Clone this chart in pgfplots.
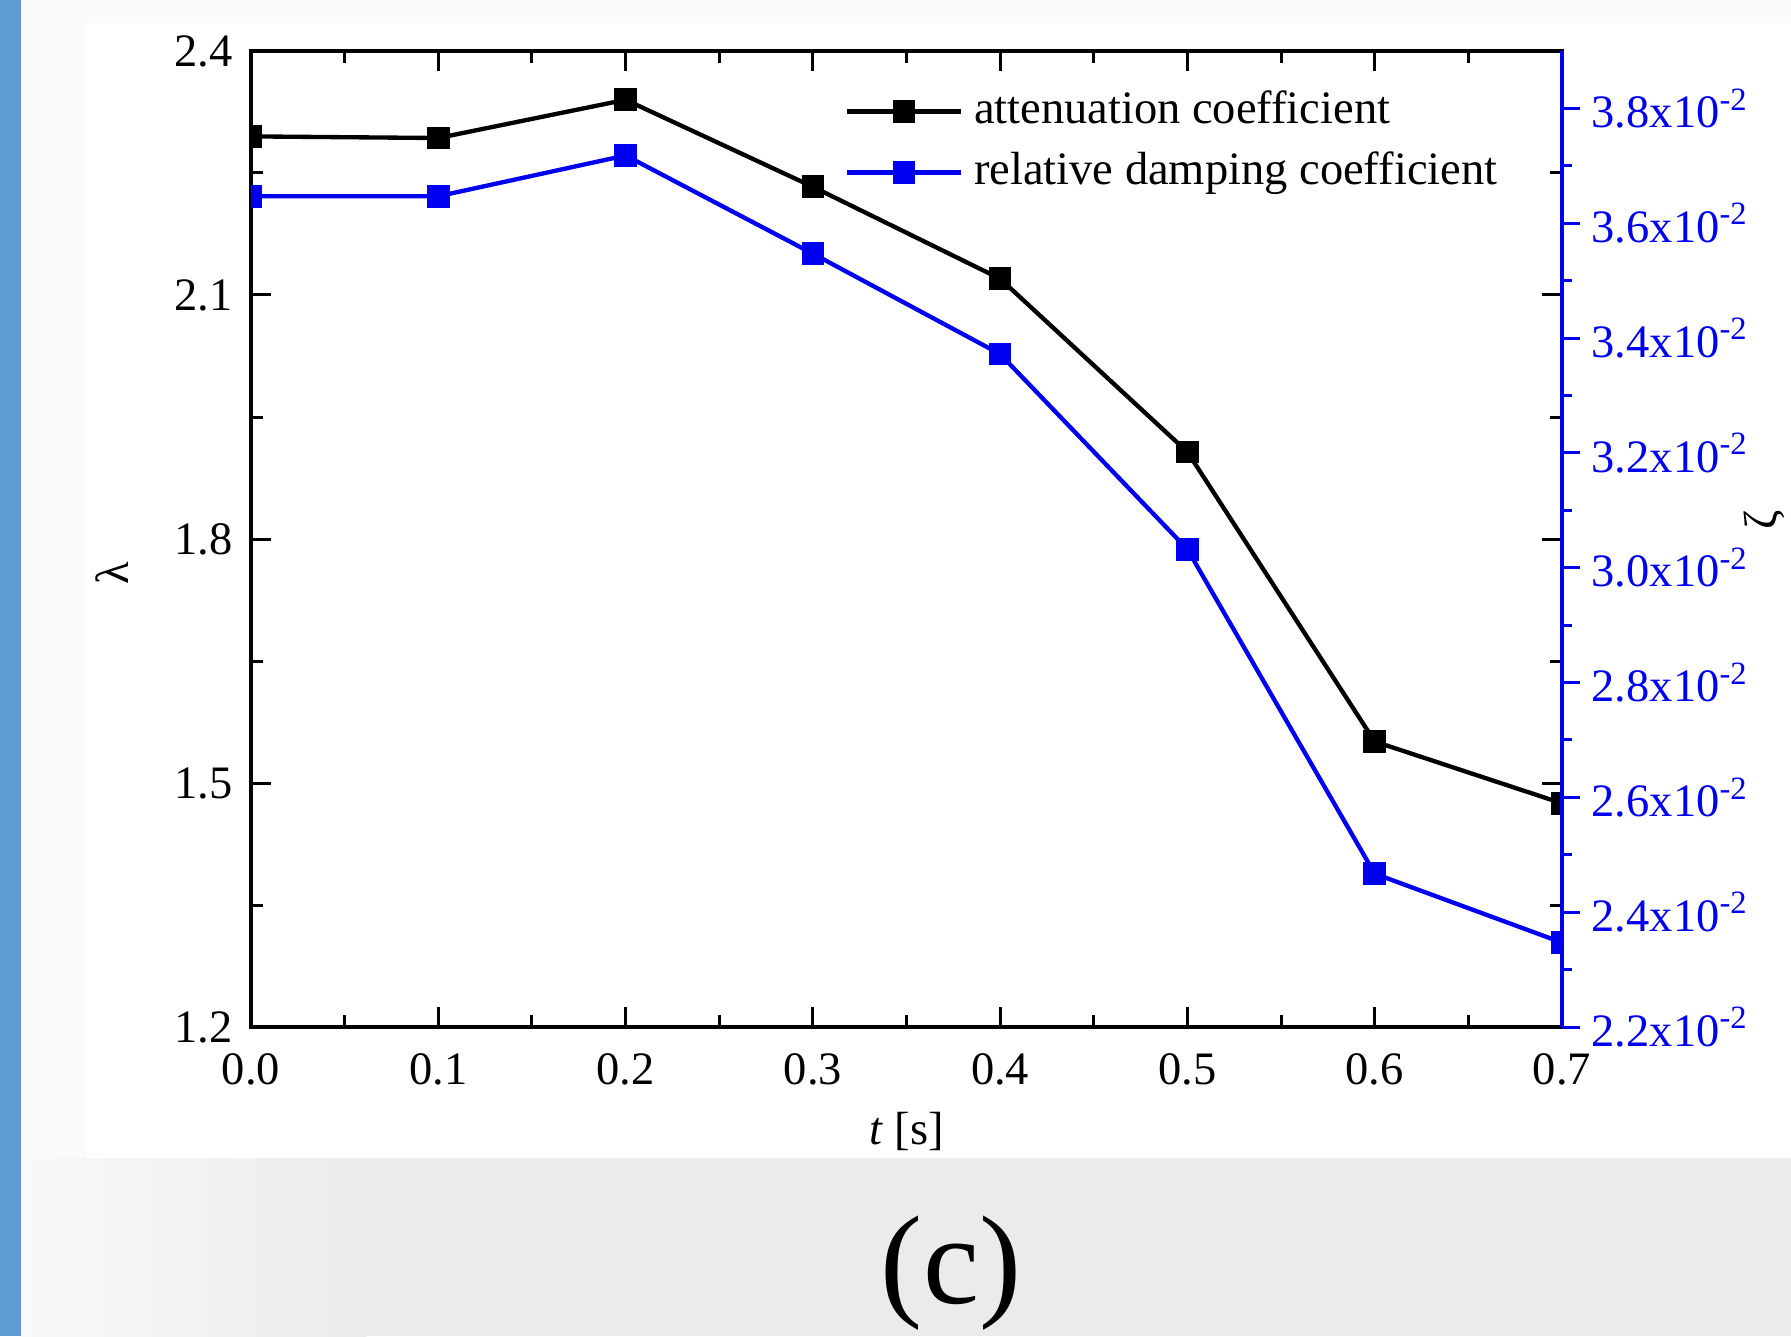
\documentclass[border=0pt]{standalone}
\usepackage{fontspec}
\setmainfont{Liberation Serif}
\usepackage{pgfplots}
\pgfplotsset{compat=1.18}

\definecolor{stripblue}{HTML}{5F9CD3}
\definecolor{bggray}{HTML}{EBEBEB}
\definecolor{offwhite}{HTML}{FAFAF8}
\definecolor{zblue}{RGB}{0,0,240}

\pgfplotsset{
  common/.style={
    scale only axis, width=393.3bp, height=292.8bp,
    at={(75.3bp,92.7bp)}, anchor=south west,
    xmin=0, xmax=0.7,
    clip marker paths=true,
    font=\fontsize{14}{16}\selectfont,
    tick label style={font=\fontsize{14}{16}\selectfont},
    label style={font=\fontsize{14}{16}\selectfont},
  },
  legend image code/.code={
    \draw[mark repeat=2,mark phase=2,#1]
      plot coordinates {(0bp,0bp) (17bp,0bp) (34bp,0bp)};
    \path (36.4bp,0bp);
  },
}

\begin{document}
\begin{tikzpicture}[x=1bp,y=1bp]
\clip (0,0) rectangle (537.3,400.8);
% background of the screenshot
\fill[offwhite] (0,0) rectangle (537.3,400.8);
\fill[bggray] (0,0) rectangle (537.3,53.4);
\shade[left color=white!70!bggray, right color=bggray] (6,0) rectangle (110,53.4);
\fill[white] (26,53.4) rectangle (537.3,393.9);
\fill[stripblue] (0,0) rectangle (6.3,400.8);
\node[font=\fontsize{38}{40}\selectfont] at (285.3,19) {(c)};

% left axis: attenuation coefficient
\begin{axis}[
  common,
  ymin=1.2, ymax=2.4,
  xtick={0,0.1,0.2,0.3,0.4,0.5,0.6,0.7},
  xticklabels={0.0,0.1,0.2,0.3,0.4,0.5,0.6,0.7},
  ytick={1.2,1.5,1.8,2.1,2.4},
  yticklabels={1.2,1.5,1.8,2.1,2.4},
  minor x tick num=1, minor y tick num=1,
  tick align=inside,
  major tick length=6bp, minor tick length=3.6bp,
  axis line style={line width=1bp},
  every tick/.style={black, line width=0.9bp},
  xticklabel style={yshift=-4.5bp},
  yticklabel style={xshift=-2bp},
  xlabel={\textit{t} [s]},
  ylabel={λ},
  xlabel style={at={(axis description cs:0.5,-0.107)}, anchor=center},
  ylabel style={at={(axis description cs:-0.106,0.465)}, anchor=center},
  legend style={at={(axis description cs:0.445,0.971)}, anchor=north west,
    draw=none, fill=none, font=\fontsize{14}{16}\selectfont,
    row sep=3.3bp,
    nodes={inner sep=1bp, text height=10bp, text depth=3bp}},
  legend cell align=left,
]
\addplot[black, line width=1.3bp, mark=square*, mark size=2.75bp,
  mark options={solid}] table {
x    y
0.0  2.295
0.1  2.293
0.2  2.340
0.3  2.233
0.4  2.120
0.5  1.907
0.6  1.551
0.7  1.475
};
\addlegendentry{attenuation coefficient}
\addlegendimage{zblue, line width=1.3bp, mark=square*, mark size=2.75bp,
  mark options={solid}}
\addlegendentry{relative damping coefficient}
\end{axis}

% right axis: relative damping coefficient
\begin{axis}[
  common,
  ymin=0.022, ymax=0.039,
  scaled y ticks=false,
  axis x line=none, axis y line*=right,
  y axis line style={zblue, line width=1bp},
  ytick={0.022,0.024,0.026,0.028,0.030,0.032,0.034,0.036,0.038},
  yticklabels={2.2x10\textsuperscript{-2},2.4x10\textsuperscript{-2},
    2.6x10\textsuperscript{-2},2.8x10\textsuperscript{-2},
    3.0x10\textsuperscript{-2},3.2x10\textsuperscript{-2},
    3.4x10\textsuperscript{-2},3.6x10\textsuperscript{-2},
    3.8x10\textsuperscript{-2}},
  minor y tick num=1,
  tick align=outside,
  major tick length=5.4bp, minor tick length=3bp,
  every tick/.style={zblue, line width=0.9bp},
  yticklabel style={zblue},
  ylabel={ζ},
  ylabel style={at={(axis description cs:1.154,0.52)}, anchor=center},
]
\addplot[zblue, line width=1.3bp, mark=square*, mark size=2.75bp,
  mark options={solid}] table {
x    y
0.0  0.03647
0.1  0.03647
0.2  0.03718
0.3  0.03547
0.4  0.03372
0.5  0.03032
0.6  0.02467
0.7  0.02347
};
\end{axis}
\end{tikzpicture}
\end{document}
